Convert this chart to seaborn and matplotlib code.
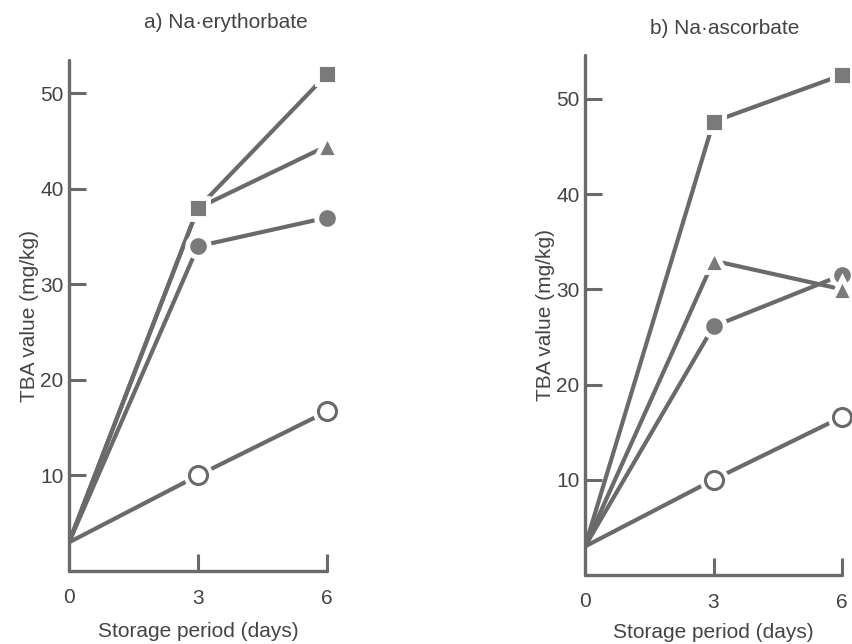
import pandas as pd
import matplotlib
matplotlib.use('Agg')
import matplotlib.pyplot as plt
import seaborn as sns

# storage days and TBA values
days = [0, 3, 6]

# a) Na-erythorbate
ery_open = [3, 10, 16.7]
ery_circle = [3, 34, 37]
ery_triangle = [3, 38, 44.5]
ery_square = [3, 38, 52]

# b) Na-ascorbate
asc_open = [3, 10, 16.6]
asc_circle = [3, 26.1, 31.5]
asc_triangle = [3, 33, 30]
asc_square = [3, 47.6, 52.5]

y_ticks = [10, 20, 30, 40, 50]
x_ticks = [3, 6]

sns.set_theme(style='ticks')
plt.rcParams['font.family'] = ['Liberation Sans', 'DejaVu Sans']

grey = '#6a6a6a'
fill = '#7a7a7a'
text_col = '#444444'

fig = plt.figure(figsize=(8.52, 6.44), dpi=100)
ax1 = fig.add_axes([69 / 852, 73 / 644, 258 / 852, 511 / 644])
ax2 = fig.add_axes([585 / 852, 69 / 644, 257 / 852, 520 / 644])


def draw_panel(ax, series, ymax, xpad):
    # series: list of (values, marker kind)
    rows = []
    for i, (vals, kind) in enumerate(series):
        for d, v in zip(days, vals):
            rows.append({'day': d, 'tba': v, 'grp': i})
    df = pd.DataFrame(rows)
    sns.lineplot(data=df, x='day', y='tba', hue='grp', palette=[grey] * len(series),
                 linewidth=3, legend=False, ax=ax, zorder=2,
                 solid_capstyle='round')

    # markers only at day 3 and 6, with a white rim that leaves a gap to the line
    for vals, kind in series:
        xs, ys = days[1:], vals[1:]
        if kind == 'open':
            ax.plot(xs, ys, 'o', ms=20, color='white', zorder=3, clip_on=False)
            ax.plot(xs, ys, 'o', ms=13, mfc='white', mec=grey, mew=2.2,
                    zorder=4, clip_on=False)
        else:
            m = {'circle': 'o', 'triangle': '^', 'square': 's'}[kind]
            size = {'circle': 15.5, 'triangle': 15.5, 'square': 14.5}[kind]
            ax.plot(xs, ys, m, ms=size, mfc=fill, mec='white', mew=3.5,
                    zorder=4, clip_on=False)

    ax.set_xlim(0, 6)
    ax.set_ylim(0, ymax)
    ax.set_xticks(x_ticks)
    ax.set_yticks(y_ticks)
    sns.despine(ax=ax)
    for s in ['left', 'bottom']:
        ax.spines[s].set_linewidth(2.4)
        ax.spines[s].set_color(grey)
        ax.spines[s].set_capstyle('round')
    ax.tick_params(direction='in', length=12, width=2.2, color=grey,
                   labelsize=15, labelcolor=text_col)
    ax.tick_params(axis='y', pad=4)
    ax.tick_params(axis='x', pad=13)
    ax.set_xlabel('Storage period (days)', fontsize=15, color=text_col, labelpad=xpad)
    ax.set_ylabel('TBA value (mg/kg)', fontsize=15, color=text_col, labelpad=1)
    ax.patch.set_alpha(0)


draw_panel(ax1, [(ery_open, 'open'), (ery_circle, 'circle'),
                 (ery_triangle, 'triangle'), (ery_square, 'square')], 53.5, 10)
draw_panel(ax2, [(asc_open, 'open'), (asc_circle, 'circle'),
                 (asc_triangle, 'triangle'), (asc_square, 'square')], 54.6, 8)

# the 0 on the x axis is only a label, no tick mark
for ax in (ax1, ax2):
    ax.text(0, -0.033, '0', transform=ax.get_xaxis_transform(), ha='center',
            va='top', fontsize=15, color=text_col)

fig.text(226 / 852, 1 - 22 / 644, 'a) Na·erythorbate', ha='center', va='center',
         fontsize=15, color=text_col)
fig.text(725 / 852, 1 - 28 / 644, 'b) Na·ascorbate', ha='center', va='center',
         fontsize=15, color=text_col)

fig.savefig('out.png', dpi=100)
